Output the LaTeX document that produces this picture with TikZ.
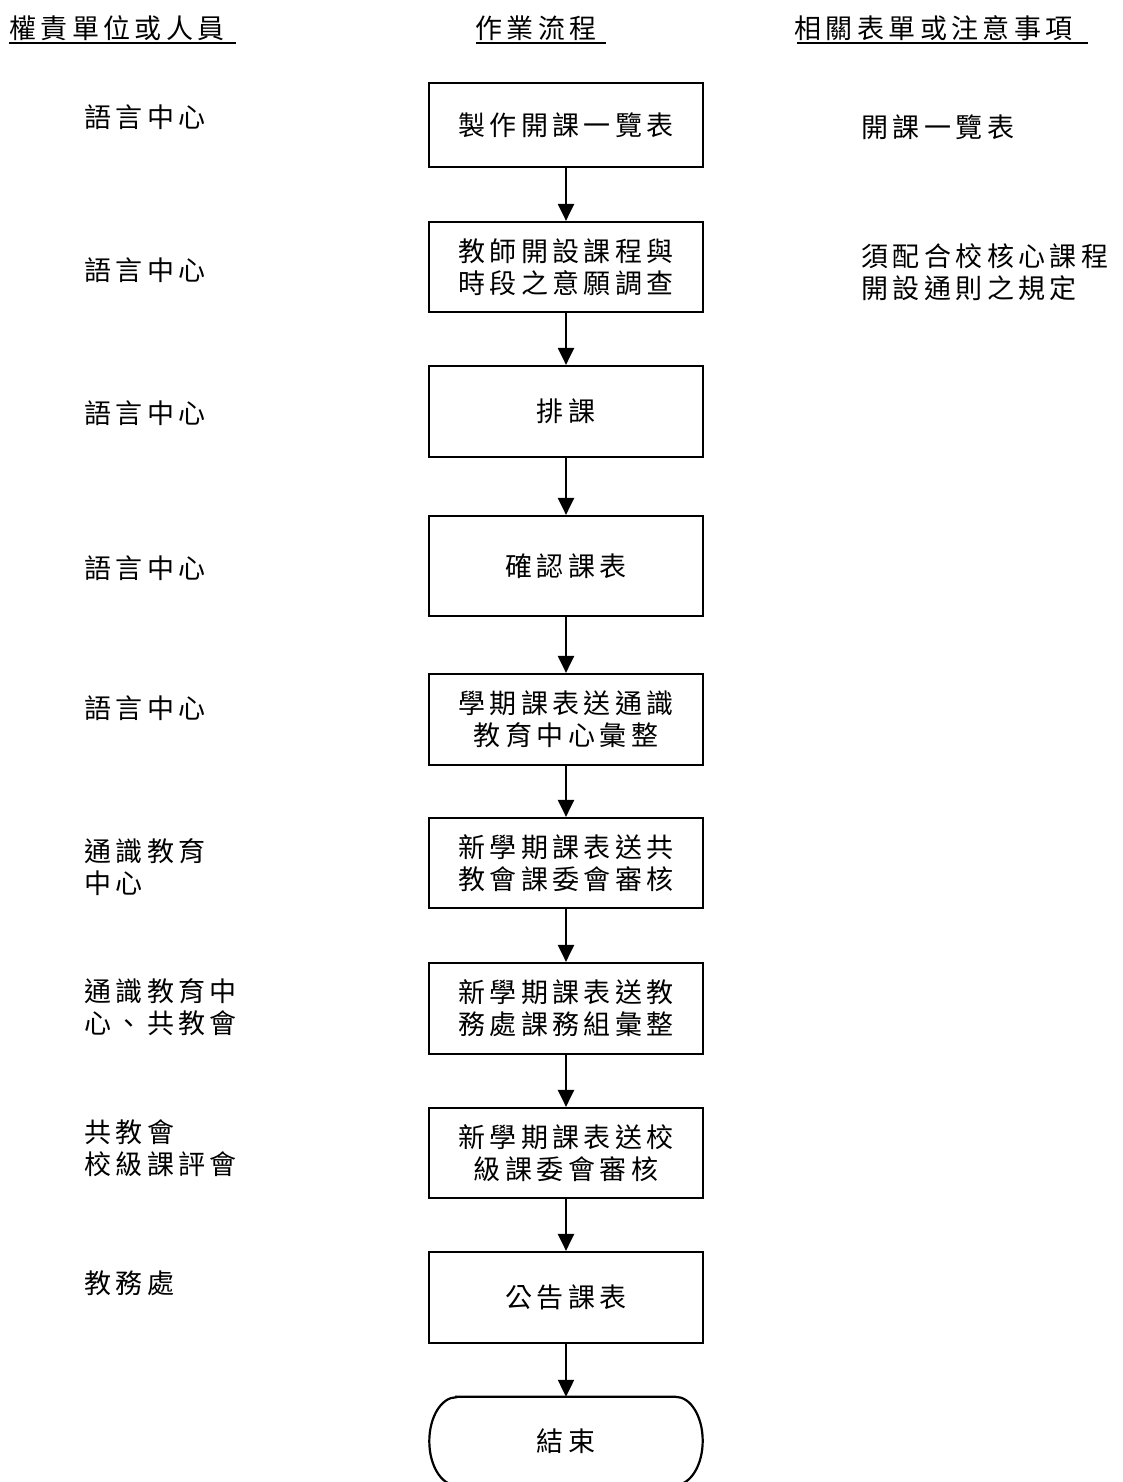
\documentclass[tikz,border=0pt]{standalone}
\usepackage{fontspec}
\usetikzlibrary{arrows.meta}
\newfontfamily\cjk{Noto Sans CJK TC}[LetterSpace=16.5]
\begin{document}
\begin{tikzpicture}[x=1pt,y=-1pt,
  every node/.style={font=\cjk\fontsize{27}{32}\selectfont, inner sep=0pt},
  stepbox/.style={draw, line width=2.2pt, minimum width=274pt, align=center},
  lbl/.style={anchor=west, align=left},
  arr/.style={line width=2.2pt, -{Triangle[length=17pt,width=16pt]}}]
\useasboundingbox (0,0) rectangle (1123,1482);
% headers
\node[lbl] (h1) at (9,28) {權責單位或人員};
\node[lbl] (h2) at (475,28) {作業流程};
\node[lbl] (h3) at (794,28) {相關表單或注意事項};
\draw[line width=2.4pt] (9,43) -- (236,43);
\draw[line width=2.4pt] (476,43) -- (606,43);
\draw[line width=2.4pt] (797,43) -- (1088,43);
% flow boxes
\node[stepbox, minimum height=84pt] (b1) at (566,125) {製作開課一覽表};
\node[stepbox, minimum height=90pt] (b2) at (566,267) {教師開設課程與\\時段之意願調查};
\node[stepbox, minimum height=91pt] (b3) at (566,411.5) {排課};
\node[stepbox, minimum height=100pt] (b4) at (566,566) {確認課表};
\node[stepbox, minimum height=91pt] (b5) at (566,719.5) {學期課表送通識\\教育中心彙整};
\node[stepbox, minimum height=90pt] (b6) at (566,863) {新學期課表送共\\教會課委會審核};
\node[stepbox, minimum height=91pt] (b7) at (566,1008.5) {新學期課表送教\\務處課務組彙整};
\node[stepbox, minimum height=90pt] (b8) at (566,1153) {新學期課表送校\\級課委會審核};
\node[stepbox, minimum height=91pt] (b9) at (566,1297.5) {公告課表};
\node[minimum width=273pt, minimum height=88pt] (end) at (566,1441) {結束};
\draw[line width=2.2pt] ([xshift=27pt]end.north west) -- ([xshift=-27pt]end.north east)
  arc[start angle=90, end angle=-90, x radius=27pt, y radius=44pt]
  -- ([xshift=27pt]end.south west)
  arc[start angle=270, end angle=90, x radius=27pt, y radius=44pt] -- cycle;
% arrows
\draw[arr] (b1) -- (b2);
\draw[arr] (b2) -- (b3);
\draw[arr] (b3) -- (b4);
\draw[arr] (b4) -- (b5);
\draw[arr] (b5) -- (b6);
\draw[arr] (b6) -- (b7);
\draw[arr] (b7) -- (b8);
\draw[arr] (b8) -- (b9);
\draw[arr] (b9) -- (end);
% left column
\node[lbl] (l1) at (84,117) {語言中心};
\node[lbl] (l2) at (84,270) {語言中心};
\node[lbl] (l3) at (84,413) {語言中心};
\node[lbl] (l4) at (84,568) {語言中心};
\node[lbl] (l5) at (84,708) {語言中心};
\node[lbl] (l6) at (84,867) {通識教育\\中心};
\node[lbl] (l7) at (84,1007) {通識教育中\\心、共教會};
\node[lbl] (l8) at (84,1148) {共教會\\校級課評會};
\node[lbl] (l9) at (84,1283) {教務處};
% right column
\node[lbl] (r1) at (861,127) {開課一覽表};
\node[lbl] (r2) at (861,272) {須配合校核心課程\\開設通則之規定};
\end{tikzpicture}
\end{document}
